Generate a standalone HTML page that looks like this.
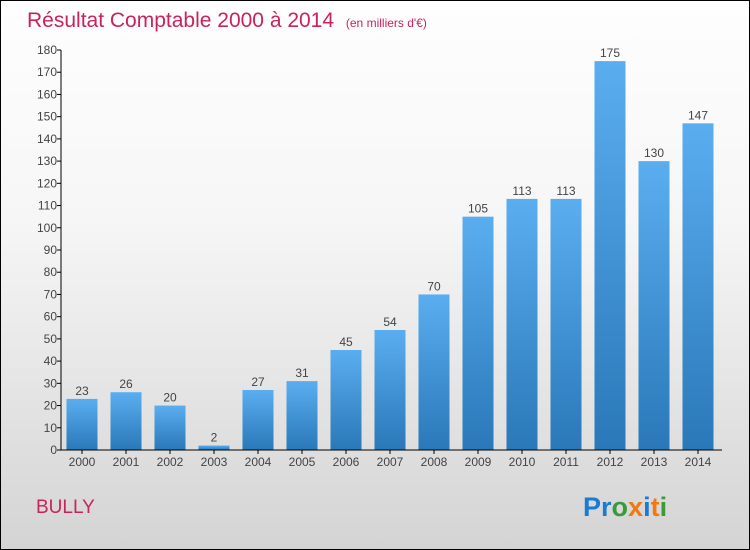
<!DOCTYPE html>
<html><head><meta charset="utf-8"><style>
body{margin:0}
#c{position:relative;width:748px;height:548px;border:1px solid #000;background:linear-gradient(#fefefe,#f6f6f6 40%,#d4d4d4);font-family:"Liberation Sans",sans-serif;overflow:hidden}
</style></head><body>
<div id="c">
<svg width="748" height="548">
<defs><linearGradient id="bg" x1="0" x2="0" y1="0" y2="1"><stop offset="0" stop-color="#5aaef0"/><stop offset="1" stop-color="#2a78b8"/></linearGradient></defs>
<text x="26" y="26" font-size="21" fill="#c8245a">Résultat Comptable 2000 à 2014 <tspan font-size="12" dx="6">(en milliers d'€)</tspan></text>
<g id="yaxis"></g>
<g id="bars"></g>
<g id="xaxis"></g>
<text x="35" y="512" font-size="19" fill="#c8245a">BULLY</text>
<text x="582" y="515" font-size="27" font-weight="bold"><tspan fill="#1a7ad4">Pr</tspan><tspan fill="#3a9a3a">o</tspan><tspan fill="#f07a10">x</tspan><tspan fill="#1a7ad4">i</tspan><tspan fill="#f07a10">t</tspan><tspan fill="#3a9a3a">i</tspan></text>
</svg>
</div>
<script>
const categories=["2000","2001","2002","2003","2004","2005","2006","2007","2008","2009","2010","2011","2012","2013","2014"];
const values=[23,26,20,2,27,31,45,54,70,105,113,113,175,130,147];
const yTicks=[0,10,20,30,40,50,60,70,80,90,100,110,120,130,140,150,160,170,180];
const NS="http://www.w3.org/2000/svg";
const y0=449,pxPer=400/180,x0=60,step=44,firstC=81,bw=31;
const ys=v=>y0-v*pxPer, xs=i=>firstC+i*step;
function mk(tag,attrs,parent){const e=document.createElementNS(NS,tag);for(const k in attrs)e.setAttribute(k,attrs[k]);parent.appendChild(e);return e;}
const ya=document.getElementById('yaxis'),xa=document.getElementById('xaxis'),bg=document.getElementById('bars');
let l=mk('line',{x1:x0,x2:x0,y1:ys(180),y2:y0,stroke:'#000'},ya);


yTicks.forEach(t=>{
 const tk=mk('line',{x1:x0-4,x2:x0,y1:ys(t),y2:ys(t),stroke:'#000'},ya);
 
 
 const tx=mk('text',{x:x0-4,y:ys(t)+4,'text-anchor':'end','font-size':12,fill:'#444'},ya);
 tx.textContent=t;
 
 
});
const xl=mk('line',{x1:x0,x2:721,y1:y0,y2:y0,stroke:'#000'},xa);


categories.forEach((c,i)=>{
 const r=mk('rect',{x:xs(i)-bw/2,y:ys(values[i]),width:bw,height:values[i]*pxPer,fill:'url(#bg)'},bg);
 
 
 const v=mk('text',{x:xs(i),y:ys(values[i])-4,'text-anchor':'middle','font-size':12,fill:'#444'},bg);
 v.textContent=values[i];
 
 
 const tk=mk('line',{x1:xs(i),x2:xs(i),y1:y0,y2:y0+4,stroke:'#000'},xa);
 
 
 const tx=mk('text',{x:xs(i),y:y0+16,'text-anchor':'middle','font-size':12,fill:'#444'},xa);
 tx.textContent=c;
 
 
});
</script>
</body></html>
